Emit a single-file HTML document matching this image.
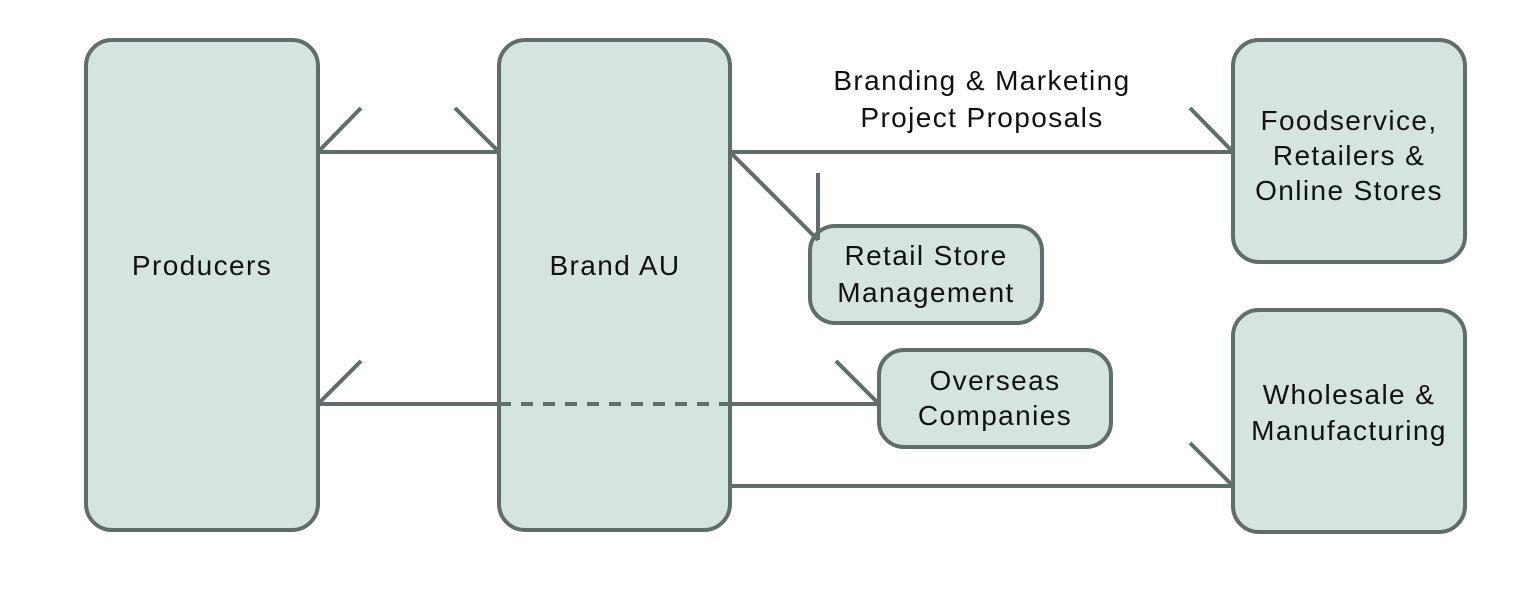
<!DOCTYPE html>
<html><head><style>
body{margin:0;background:#fff;}
svg{display:block;}
text{font-family:"Liberation Sans",sans-serif;font-size:28px;letter-spacing:1.4px;fill:#111;text-anchor:middle;}
</style></head><body>
<svg width="1518" height="591" viewBox="0 0 1518 591">
<g fill="#d6e4e1" stroke="#5f6e6b" stroke-width="4">
<rect x="86" y="40" width="232" height="490" rx="26"/>
<rect x="499" y="40" width="231" height="490" rx="26"/>
<rect x="1233" y="40" width="232" height="222" rx="26"/>
<rect x="1233" y="310" width="232" height="222" rx="26"/>
<rect x="810" y="226" width="232" height="97" rx="25"/>
<rect x="879" y="350" width="232" height="97" rx="25"/>
</g>
<g stroke="#5f6e6b" stroke-width="4" fill="none">
<line x1="318" y1="152" x2="499" y2="152"/>
<line x1="318" y1="152" x2="361" y2="108"/>
<line x1="499" y1="152" x2="455" y2="108"/>
<line x1="730" y1="152" x2="1233" y2="152"/>
<line x1="1233" y1="152" x2="1190" y2="108"/>
<line x1="730" y1="152" x2="818" y2="240"/>
<line x1="818" y1="173" x2="818" y2="240"/>
<line x1="318" y1="404" x2="499" y2="404"/>
<line x1="499" y1="404" x2="730" y2="404" stroke-dasharray="12,10"/>
<line x1="730" y1="404" x2="879" y2="404"/>
<line x1="318" y1="404" x2="361" y2="361"/>
<line x1="879" y1="404" x2="836" y2="361"/>
<line x1="730" y1="486" x2="1233" y2="486"/>
<line x1="1233" y1="486" x2="1190" y2="443"/>
</g>
<text x="202" y="275">Producers</text>
<text x="615" y="275">Brand AU</text>
<text x="982" y="90">Branding &amp; Marketing</text>
<text x="982" y="127">Project Proposals</text>
<text x="1349" y="130">Foodservice,</text>
<text x="1349" y="165">Retailers &amp;</text>
<text x="1349" y="200">Online Stores</text>
<text x="926" y="265">Retail Store</text>
<text x="926" y="302">Management</text>
<text x="995" y="390">Overseas</text>
<text x="995" y="425">Companies</text>
<text x="1349" y="404">Wholesale &amp;</text>
<text x="1349" y="440">Manufacturing</text>
</svg>
</body></html>
